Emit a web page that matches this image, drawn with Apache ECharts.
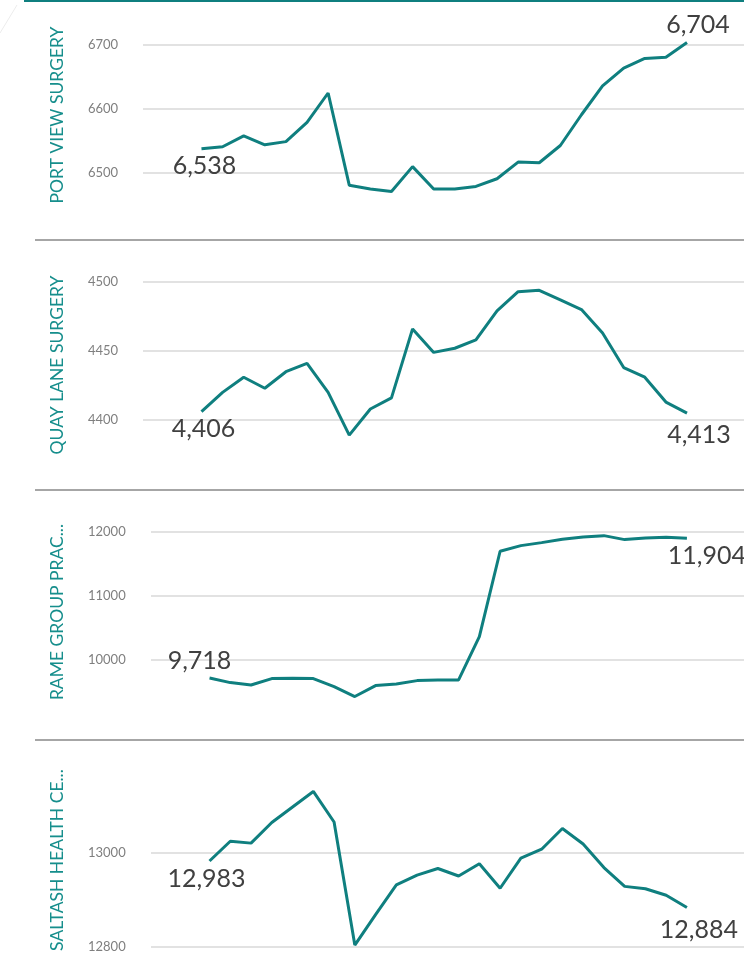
<!DOCTYPE html>
<html>
<head>
    <meta charset="utf-8" />
    <title>Practice list size</title>
    <script src="https://cdn.jsdelivr.net/npm/echarts@6.0.0/dist/echarts.min.js"></script>
    <style>
        html, body { margin: 0; padding: 0; background: #fff; }
    </style>
</head>
<body>
    <div id="main" style="width: 744px;height:959px;"></div>
    <script type="text/javascript">
        // practice names (the long ones are cut like in the original)
        var practices = ['PORT VIEW SURGERY', 'QUAY LANE SURGERY', 'RAME GROUP PRAC...', 'SALTASH HEALTH CE...'];

        var portView = [6538, 6541, 6558, 6544, 6549, 6579, 6625, 6481, 6475, 6471, 6510, 6475,
            6475, 6479, 6491, 6517, 6516, 6543, 6591, 6636, 6664, 6679, 6681, 6704];
        var quayLane = [4406, 4420, 4431, 4423, 4435, 4441, 4420, 4389, 4408, 4416, 4466, 4449,
            4452, 4458, 4479, 4493, 4494, 4487, 4480, 4463, 4438, 4431, 4413, 4405];
        var rameGroup = [9718, 9647, 9610, 9709, 9714, 9709, 9584, 9429, 9600, 9626, 9678, 9688,
            9688, 10364, 11699, 11787, 11834, 11886, 11922, 11943, 11881, 11907, 11917, 11904];
        var saltash = [12983, 13025, 13021, 13065, 13098, 13131, 13066, 12804, 12869, 12932, 12953, 12967,
            12951, 12977, 12925, 12989, 13008, 13052, 13019, 12969, 12929, 12924, 12910, 12884];

        // first / last labels as printed on the chart
        var endLabels = [[6538, 6704], [4406, 4413], [9718, 11904], [12983, 12884]];

        // y axis tick range per panel
        var yMin = [6500, 4400, 10000, 12800];
        var yMax = [6700, 4500, 12000, 13000];
        var yStep = [100, 50, 1000, 200];

        var seriesValues = [portView, quayLane, rameGroup, saltash];

        var teal = '#0f7f7f';
        var myChart = echarts.init(document.getElementById('main'));

        // layout of each small panel
        var grids = [
            { left: 143, right: 0, top: 45, height: 128 },
            { left: 143, right: 0, top: 282, height: 138 },
            { left: 151, right: 0, top: 532, height: 128 },
            { left: 151, right: 0, top: 853, height: 94 }
        ];
        var xRange = [[-2.77, 25.7], [-2.77, 25.7], [-2.82, 25.75], [-2.82, 25.75]];
        var labelMargin = [55, 55, 63, 63];
        var titleY = [115, 365, 612, 860];
        var firstLabel = [
            { position: 'bottom', offset: [3, 0] },
            { position: 'bottom', offset: [2, 0] },
            { position: 'top', offset: [-10, 0] },
            { position: 'bottom', offset: [-3, 0] }
        ];
        var lastLabel = [
            { position: 'top', offset: [11, 0] },
            { position: 'bottom', offset: [12, 4] },
            { position: 'bottom', offset: [20, 0] },
            { position: 'bottom', offset: [12, 5] }
        ];

        var xAxes = [], yAxes = [], series = [], graphics = [];

        for (var p = 0; p < 4; p++) {
            xAxes.push({
                gridIndex: p,
                type: 'value',
                min: xRange[p][0],
                max: xRange[p][1],
                show: false
            });
            yAxes.push({
                gridIndex: p,
                type: 'value',
                min: yMin[p],
                max: yMax[p],
                interval: yStep[p],
                axisLine: { show: false },
                axisTick: { show: false },
                axisLabel: {
                    color: '#7f7f7f',
                    fontFamily: 'Lato',
                    fontSize: 13,
                    align: 'left',
                    margin: labelMargin[p],
                    formatter: function (v) { return String(v); }
                },
                splitLine: { lineStyle: { color: '#d9d9d9', width: 1.5 } }
            });

            var vals = seriesValues[p];
            var data = vals.map(function (v, i) {
                return [i, v];
            });
            var fl = firstLabel[p], ll = lastLabel[p];
            data[0] = {
                value: data[0],
                label: { show: true, position: fl.position, offset: fl.offset, formatter: endLabels[p][0].toLocaleString('en-US') }
            };
            var n = vals.length - 1;
            data[n] = {
                value: data[n],
                label: { show: true, position: ll.position, offset: ll.offset, formatter: endLabels[p][1].toLocaleString('en-US') }
            };

            series.push({
                name: practices[p],
                type: 'line',
                xAxisIndex: p,
                yAxisIndex: p,
                data: data,
                showSymbol: true,
                symbol: 'circle',
                symbolSize: 0,
                clip: false,
                lineStyle: { color: teal, width: 3 },
                itemStyle: { color: teal },
                label: {
                    show: false,
                    color: '#404040',
                    fontFamily: 'Lato',
                    fontSize: 25
                }
            });

            graphics.push({
                type: 'text',
                x: 57,
                y: titleY[p],
                rotation: Math.PI / 2,
                style: {
                    text: practices[p],
                    fill: '#168e8c',
                    font: '17.5px Lato',
                    textAlign: 'center',
                    textVerticalAlign: 'middle'
                }
            });
        }

        // panel separators and top rule
        graphics.push({ type: 'line', shape: { x1: 24, y1: 1, x2: 744, y2: 1 }, style: { stroke: '#0f7f7f', lineWidth: 2 } });
        graphics.push({ type: 'line', shape: { x1: 0, y1: 33, x2: 17, y2: 5 }, style: { stroke: '#ececec', lineWidth: 1 } });
        [240, 490, 740].forEach(function (y) {
            graphics.push({ type: 'line', shape: { x1: 35, y1: y, x2: 744, y2: y }, style: { stroke: '#a6a6a6', lineWidth: 2 } });
        });

        var option = {
            animation: false,
            grid: grids,
            xAxis: xAxes,
            yAxis: yAxes,
            series: series,
            graphic: graphics
        };

        myChart.setOption(option);
    </script>
</body>
</html>
